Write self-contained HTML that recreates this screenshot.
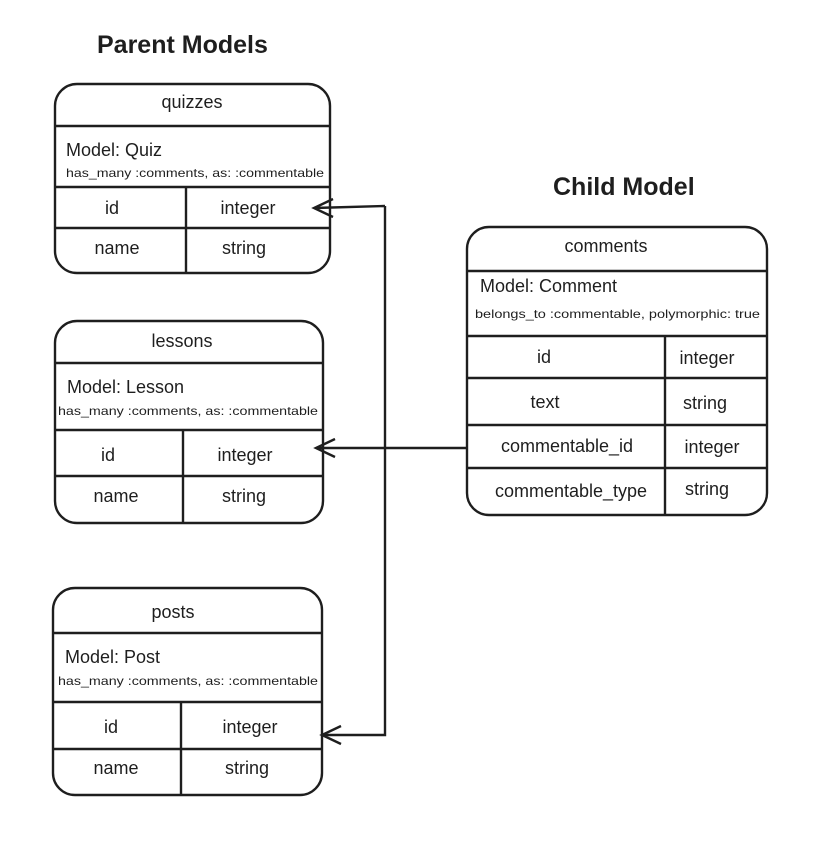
<!DOCTYPE html>
<html><head><meta charset="utf-8"><style>
html,body{margin:0;padding:0;background:#fff}
svg{display:block}
text{font-family:"Liberation Sans","DejaVu Sans",sans-serif;fill:#1e1e1e}
</style></head><body>
<svg width="824" height="852" viewBox="0 0 824 852" xmlns="http://www.w3.org/2000/svg">
<g fill="none" stroke="#1e1e1e" stroke-width="2.4">
<rect x="55" y="84" width="275" height="189" rx="22"/>
<line x1="55" y1="126" x2="330" y2="126"/>
<line x1="55" y1="187" x2="330" y2="187"/>
<line x1="55" y1="228" x2="330" y2="228"/>
<line x1="186" y1="187" x2="186" y2="273"/>
<rect x="55" y="321" width="268" height="202" rx="22"/>
<line x1="55" y1="363" x2="323" y2="363"/>
<line x1="55" y1="430" x2="323" y2="430"/>
<line x1="55" y1="476" x2="323" y2="476"/>
<line x1="183" y1="430" x2="183" y2="523"/>
<rect x="53" y="588" width="269" height="207" rx="22"/>
<line x1="53" y1="633" x2="322" y2="633"/>
<line x1="53" y1="702" x2="322" y2="702"/>
<line x1="53" y1="749" x2="322" y2="749"/>
<line x1="181" y1="702" x2="181" y2="795"/>
<rect x="467" y="227" width="300" height="288" rx="22"/>
<line x1="467" y1="271" x2="767" y2="271"/>
<line x1="467" y1="336" x2="767" y2="336"/>
<line x1="467" y1="378" x2="767" y2="378"/>
<line x1="467" y1="425" x2="767" y2="425"/>
<line x1="467" y1="468" x2="767" y2="468"/>
<line x1="665" y1="336" x2="665" y2="515"/>
<polyline points="385,206 385,735 322,735"/>
<line x1="385" y1="206" x2="314" y2="208"/>
<line x1="467" y1="448" x2="316" y2="448"/>
<polyline points="333,199 314,208 333,217"/>
<polyline points="335,439 316,448 335,457"/>
<polyline points="341,726 322,735 341,744"/>
</g>
<text x="97" y="53" font-size="25" font-weight="bold">Parent Models</text>
<text x="553" y="195" font-size="25" font-weight="bold">Child Model</text>
<g font-size="18" text-anchor="middle">
<text x="192" y="108">quizzes</text>
<text x="182" y="347">lessons</text>
<text x="173" y="618">posts</text>
<text x="606" y="252">comments</text>
<text x="112" y="214">id</text><text x="248" y="214">integer</text>
<text x="117" y="254">name</text><text x="244" y="254">string</text>
<text x="108" y="461">id</text><text x="245" y="461">integer</text>
<text x="116" y="502">name</text><text x="244" y="502">string</text>
<text x="111" y="733">id</text><text x="250" y="733">integer</text>
<text x="116" y="774">name</text><text x="247" y="774">string</text>
<text x="544" y="363">id</text><text x="707" y="364">integer</text>
<text x="545" y="408">text</text><text x="705" y="409">string</text>
<text x="567" y="452">commentable_id</text><text x="712" y="453">integer</text>
<text x="571" y="497">commentable_type</text><text x="707" y="495">string</text>
</g>
<g font-size="18">
<text x="66" y="156">Model: Quiz</text>
<text x="67" y="393">Model: Lesson</text>
<text x="65" y="663">Model: Post</text>
<text x="480" y="292">Model: Comment</text>
</g>
<g font-size="12">
<text x="66" y="177" textLength="258" lengthAdjust="spacingAndGlyphs">has_many :comments, as: :commentable</text>
<text x="58" y="415" textLength="260" lengthAdjust="spacingAndGlyphs">has_many :comments, as: :commentable</text>
<text x="58" y="685" textLength="260" lengthAdjust="spacingAndGlyphs">has_many :comments, as: :commentable</text>
<text x="475" y="318" textLength="285" lengthAdjust="spacingAndGlyphs">belongs_to :commentable, polymorphic: true</text>
</g>
</svg>
</body></html>
